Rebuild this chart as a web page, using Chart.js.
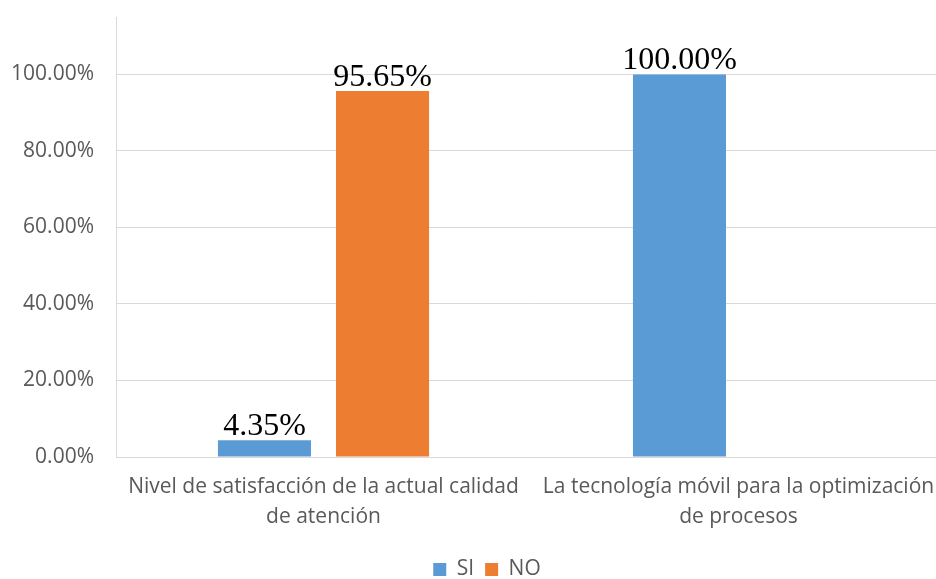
<!DOCTYPE html>
<html>
<head>
<meta charset="utf-8">
<script src="https://cdn.jsdelivr.net/npm/chart.js@4/dist/chart.umd.min.js"></script>
<style>
  html, body { margin: 0; padding: 0; background: #fff; overflow: hidden; }
  #wrap { width: 952px; height: 590px; }
</style>
</head>
<body>
<div id="wrap"><canvas id="c" width="952" height="590"></canvas></div>
<script>
const categories = [
  ["Nivel de satisfacción de la actual calidad", "de atención"],
  ["La tecnología móvil para la optimización", "de procesos"]
];
const seriesNames = ["SI", "NO"];
const siValues = [4.35, 100.00];
const noValues = [95.65, null];
const yTickValues = [0, 20, 40, 60, 80, 100];

const fmtPct = v => v.toFixed(2) + "%";
const sansFamily = "'Open Sans', sans-serif";

// Writes each bar's value above it in a serif face
const valueLabels = {
  id: "valueLabels",
  afterDatasetsDraw(chart) {
    const ctx = chart.ctx;
    ctx.save();
    ctx.font = "32px 'Liberation Serif', 'Times New Roman', serif";
    ctx.fillStyle = "#000";
    ctx.textAlign = "center";
    ctx.textBaseline = "alphabetic";
    chart.data.datasets.forEach((ds, i) => {
      const meta = chart.getDatasetMeta(i);
      meta.data.forEach((bar, j) => {
        const v = ds.data[j];
        if (v === null || v === undefined) return;
        ctx.fillText(fmtPct(v), bar.x, bar.y - 5);
      });
    });
    ctx.restore();
  }
};

// Nudges the legend block a little to the right of the canvas centre
const legendShift = {
  id: "legendShift",
  afterLayout(chart) {
    if (chart.legend) chart.legend.left += 28;
  }
};

new Chart(document.getElementById("c"), {
  type: "bar",
  data: {
    labels: categories,
    datasets: [
      { label: seriesNames[0], data: siValues, backgroundColor: "#5B9BD5" },
      { label: seriesNames[1], data: noValues, backgroundColor: "#ED7D31" }
    ]
  },
  options: {
    responsive: false,
    animation: false,
    layout: { padding: { top: 17, right: 6, left: 0, bottom: 0 } },
    datasets: { bar: { categoryPercentage: 0.569, barPercentage: 0.788 } },
    scales: {
      x: {
        afterFit(scale) {
          scale.height = 91;
          scale.paddingLeft = 0;
          scale.paddingRight = 0;
        },
        grid: { display: false, drawTicks: false },
        border: { color: "#D9D9D9", width: 1 },
        ticks: {
          color: "#595959",
          padding: 15,
          font: { family: sansFamily, size: 21, lineHeight: 1.43 },
          maxRotation: 0,
          autoSkip: false
        }
      },
      y: {
        min: 0,
        max: 115,
        afterBuildTicks(scale) {
          scale.ticks = yTickValues.map(v => ({ value: v }));
        },
        afterFit(scale) {
          scale.width = 116;
          scale.paddingTop = 0;
          scale.paddingBottom = 0;
        },
        grid: { color: "#D9D9D9", drawTicks: false, lineWidth: 1 },
        border: { color: "#D9D9D9", width: 1 },
        ticks: {
          color: "#595959",
          padding: 22,
          font: { family: sansFamily, size: 21 },
          callback: v => fmtPct(v)
        }
      }
    },
    plugins: {
      legend: {
        position: "bottom",
        labels: {
          boxWidth: 13,
          boxHeight: 13,
          color: "#595959",
          padding: 11,
          font: { family: sansFamily, size: 21 }
        }
      },
      tooltip: { enabled: false }
    }
  },
  plugins: [valueLabels, legendShift]
});
</script>
</body>
</html>
